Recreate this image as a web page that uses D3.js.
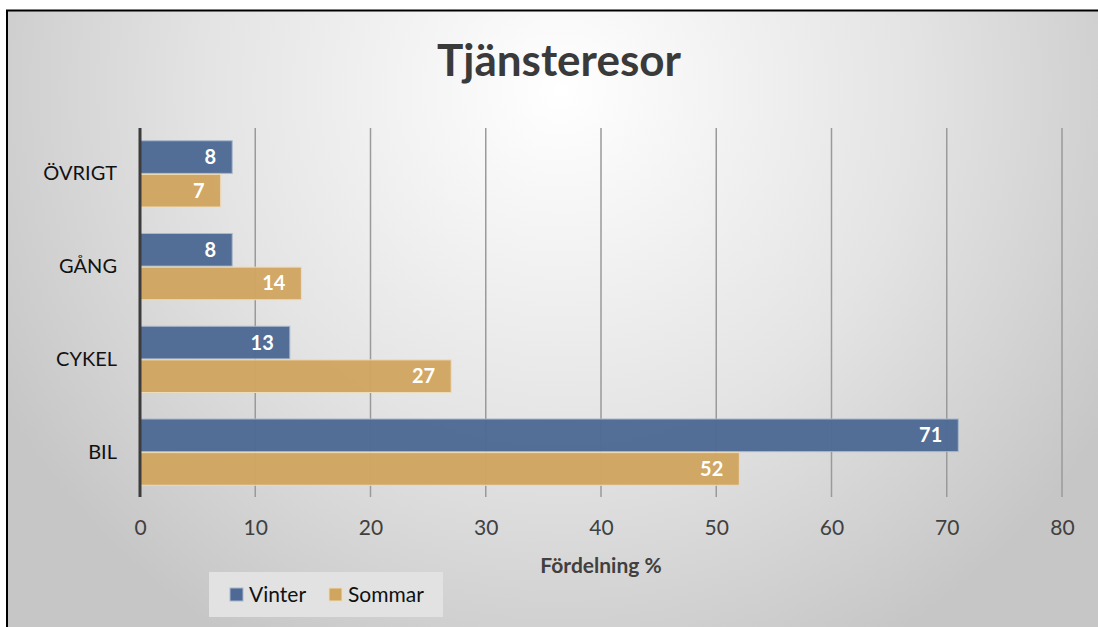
<!DOCTYPE html>
<html><head><meta charset="utf-8">
<script src="https://cdn.jsdelivr.net/npm/d3@7"></script>
<style>body{margin:0;background:#fff;}svg{display:block;}</style>
</head><body>
<svg id="c" width="1098" height="627"></svg>
<script>
const categories = ["ÖVRIGT", "GÅNG", "CYKEL", "BIL"];
const seriesNames = ["Vinter", "Sommar"];
const vinter = [8, 8, 13, 71];
const sommar = [7, 14, 27, 52];
const xTicks = [0, 10, 20, 30, 40, 50, 60, 70, 80];
const colors = ["#4d6994", "#cfa560"];
const strokes = ["#aab8cc", "#eedcb8"];

const svg = d3.select("#c");
const font = "Lato, 'Open Sans', sans-serif";
const defs = svg.append("defs");
const g = defs.append("radialGradient").attr("id","bg")
  .attr("gradientUnits","userSpaceOnUse").attr("cx",560).attr("cy",90).attr("r",640);
g.append("stop").attr("offset","0").attr("stop-color","#ffffff");
g.append("stop").attr("offset","0.55").attr("stop-color","#e4e4e4");
g.append("stop").attr("offset","1").attr("stop-color","#c6c6c6");

svg.append("rect").attr("x",7).attr("y",11).attr("width",1100).attr("height",630).attr("fill","url(#bg)");
svg.append("line").attr("x1",7).attr("x2",7).attr("y1",10).attr("y2",627).attr("stroke","#000").attr("stroke-width",2);
svg.append("line").attr("x1",6).attr("x2",1098).attr("y1",10.5).attr("y2",10.5).attr("stroke","#000").attr("stroke-width",2);

const x = d3.scaleLinear().domain([0,80]).range([140,1062]);
const y = d3.scaleBand().domain(categories).range([127.5,498.5]).paddingInner(0.275).paddingOuter(0.1375);
const ys = d3.scaleBand().domain(seriesNames).range([0,y.bandwidth()]);

// gridlines
svg.append("g").selectAll("line").data(xTicks.slice(1)).join("line")
  .attr("x1",d=>x(d)).attr("x2",d=>x(d)).attr("y1",128).attr("y2",497)
  .attr("stroke","#9a9a9a").attr("stroke-width",1.5);

const data = [vinter, sommar];
seriesNames.forEach((s,si)=>{
  const gg = svg.append("g");
  gg.selectAll("rect").data(categories).join("rect")
    .attr("x",x(0)).attr("y",(c)=>y(c)+ys(s)+0.5)
    .attr("width",(c,i)=>x(data[si][i])-x(0)).attr("height",ys.bandwidth()-1)
    .attr("fill",colors[si]).attr("fill-opacity",0.97)
    .attr("stroke",strokes[si]).attr("stroke-width",1);
  gg.selectAll("text").data(categories).join("text")
    .attr("x",(c,i)=>x(data[si][i])-16).attr("y",(c)=>y(c)+ys(s)+ys.bandwidth()/2+7)
    .attr("text-anchor","end").attr("fill","#fff").attr("font-weight","bold")
    .attr("font-family",font).attr("font-size",20).text((c,i)=>data[si][i]);
});

// y axis line
svg.append("line").attr("x1",x(0)).attr("x2",x(0)).attr("y1",128).attr("y2",497)
  .attr("stroke","#3c3c3c").attr("stroke-width",3);

// x tick labels
const xa = svg.append("g").attr("transform","translate(0,497)")
  .call(d3.axisBottom(x).tickValues(xTicks).tickSize(0).tickPadding(23));
xa.select(".domain").remove();
xa.selectAll("text").attr("font-family",font).attr("font-size",21).attr("fill","#404040");

// category labels
const ya = svg.append("g").attr("transform","translate(117,0)")
  .call(d3.axisLeft(y).tickSize(0).tickPadding(0));
ya.select(".domain").remove();
ya.selectAll("text").attr("font-family",font).attr("font-size",20).attr("fill","#111");

svg.append("text").attr("x",559).attr("y",76).attr("text-anchor","middle")
  .attr("font-family",font).attr("font-weight","bold").attr("font-size",44).attr("fill","#3a3a3a").text("Tjänsteresor");
svg.append("text").attr("x",601).attr("y",573).attr("text-anchor","middle")
  .attr("font-family",font).attr("font-weight","bold").attr("font-size",21).attr("fill","#404040").text("Fördelning %");

// legend
const lg = svg.append("g");
lg.append("rect").attr("x",209).attr("y",572).attr("width",234).attr("height",45).attr("fill","#e2e2e2");
const lx = [230, 329];
seriesNames.forEach((s,i)=>{
  lg.append("rect").attr("x",lx[i]).attr("y",588).attr("width",13).attr("height",13)
    .attr("fill",colors[i]).attr("stroke",strokes[i]);
  lg.append("text").attr("x",lx[i]+19).attr("y",602).attr("font-family",font).attr("font-size",21)
    .attr("fill","#111").text(s);
});
</script>
</body></html>
